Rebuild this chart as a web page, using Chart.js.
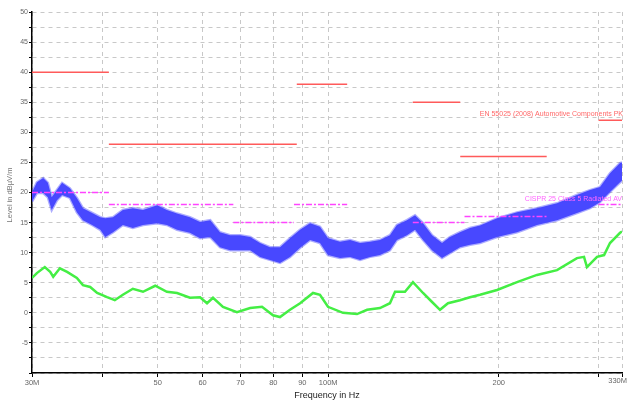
<!DOCTYPE html>
<html>
<head>
<meta charset="utf-8">
<script src="https://cdn.jsdelivr.net/npm/chart.js@4.4.0/dist/chart.umd.min.js"></script>
<style>
  html, body { margin: 0; padding: 0; background: #fff; }
  #wrap { width: 627px; height: 402px; position: relative; }
</style>
</head>
<body>
<div id="wrap"><canvas id="scan"></canvas></div>
<script>
// frequency axis (MHz, log)
const xTicks = [30, 40, 50, 60, 70, 80, 90, 100, 200, 300, 330];
const xTickLabels = ['30M', '', '50', '60', '70', '80', '90', '100M', '200', '', '330M'];

// peak scan, drawn as a band (upper / lower edge of the noise)
const blueFreq = [30, 30.6, 31.4, 32, 32.5, 33.2, 33.9, 35, 36, 36.9, 38.3, 39.6, 40.4, 41.7, 43.4, 45.2, 47.1, 49.9, 51.9, 54.1,
  57, 59.4, 61.9, 64.4, 67.1, 69.9, 72.8, 75.8, 78.9, 82.2, 85.6, 89.2, 92.9, 96.7, 99.9, 104.9, 109.3, 113.8, 118.5, 123.4,
  128.5, 132.2, 137.7, 142.3, 147, 152.5, 158.8, 164, 170.8, 177.9, 185.3, 198.6, 215.4, 233.6, 253.4, 274.8, 289.8, 301.8, 314.3, 327.4, 330];
const blueHigh = [20.0, 21.7, 22.4, 21.6, 19.2, 20.4, 21.6, 20.7, 19.1, 17.4, 16.6, 15.9, 15.7, 15.9, 17.1, 17.4, 17.1, 17.9, 17.1, 16.5,
  15.9, 15.1, 15.4, 13.4, 12.9, 12.9, 12.6, 11.6, 10.9, 10.9, 12.4, 13.8, 14.9, 14.3, 12.4, 11.8, 12.1, 11.6, 11.8, 12.1,
  12.9, 14.6, 15.4, 16.2, 14.9, 12.9, 11.6, 12.6, 13.4, 14.1, 14.5, 15.7, 16.7, 17.4, 18.2, 19.6, 20.4, 20.9, 23.2, 24.9, 25.0];
const blueLow = [18.5, 19.9, 19.9, 19.2, 17.1, 18.7, 19.6, 19.1, 16.7, 15.4, 14.6, 13.8, 12.6, 13.4, 14.6, 14.1, 14.6, 14.9, 14.6, 13.8,
  13.3, 12.4, 12.6, 10.9, 10.4, 10.4, 10.4, 9.3, 8.8, 8.3, 9.3, 10.8, 12.1, 11.6, 9.6, 9.1, 9.3, 8.8, 9.3, 9.6,
  10.4, 12.1, 12.9, 13.8, 12.1, 10.4, 9.1, 9.9, 10.9, 11.3, 11.6, 12.6, 13.4, 14.6, 15.4, 16.6, 17.4, 18.4, 20.1, 21.7, 22.0];

// average scan
const greenFreq = [30, 30.6, 31.6, 32.3, 32.7, 33.6, 34.6, 36, 36.9, 38, 39.1, 40.7, 42, 43.4, 45.2, 47.1, 49.5, 51.9, 54.1, 57,
  59.4, 61.1, 62.6, 65.2, 69, 72.8, 76.4, 79.9, 82.2, 85.6, 89.2, 94, 96.7, 99.9, 106.2, 112.4, 117.1, 123.4, 128.5, 131.2,
  136.6, 141.1, 147, 152.5, 157.5, 162.7, 170.8, 177.9, 185.3, 198.6, 215.4, 233.6, 253.4, 274.8, 282.8, 286.2, 298.2, 306.8, 314.3, 327.4, 330];
const greenLevel = [5.8, 6.6, 7.6, 6.8, 6.0, 7.4, 6.8, 5.8, 4.6, 4.3, 3.3, 2.6, 2.1, 3.0, 4.0, 3.5, 4.5, 3.5, 3.3, 2.5,
  2.6, 1.6, 2.5, 1.0, 0.1, 0.8, 1.0, -0.4, -0.7, 0.5, 1.6, 3.3, 3.0, 1.0, 0.0, -0.2, 0.5, 0.8, 1.6, 3.5,
  3.5, 5.1, 3.3, 1.8, 0.5, 1.6, 2.1, 2.6, 3.0, 3.8, 5.1, 6.3, 7.1, 9.1, 9.3, 7.6, 9.3, 9.6, 11.6, 13.3, 13.5];

// limit lines
const pkStart = [30, 41, 88, 141, 171, 300];
const pkStop = [41, 88, 108, 171, 243, 330];
const pkLevel = [40, 28, 38, 35, 26, 32];
const avStart = [30, 41, 68, 87, 141, 174, 300];
const avStop = [41, 68, 87, 108, 174, 243, 330];
const avLevel = [20, 18, 15, 18, 15, 16, 18];

const pkLabel = 'EN 55025 (2008) Automotive Components PK';
const avLabel = 'CISPR 25 Class 5 Radiated AV';

const FONT = '"Liberation Sans", Arial, sans-serif';

function pontos(freq, level) {
    return freq.map((f, i) => ({ x: f, y: level[i] }));
}

// segments separated by a null so the line breaks
function segmentos(start, stop, level) {
    const out = [];
    start.forEach((s, i) => {
        out.push({ x: s, y: level[i] }, { x: stop[i], y: level[i] }, { x: stop[i], y: null });
    });
    return out;
}

const textos = {
    id: 'textos',
    afterDraw(chart) {
        const ctx = chart.ctx;
        const area = chart.chartArea;
        ctx.save();
        ctx.textBaseline = 'middle';

        ctx.fillStyle = '#777';
        ctx.font = '7.5px ' + FONT;
        ctx.save();
        ctx.translate(10, 195);
        ctx.rotate(-Math.PI / 2);
        ctx.textAlign = 'center';
        ctx.fillText('Level in dBµV/m', 0, 0);
        ctx.restore();

        ctx.fillStyle = '#222';
        ctx.font = '9px ' + FONT;
        ctx.textAlign = 'center';
        ctx.fillText('Frequency in Hz', (area.left + area.right) / 2, 396);

        ctx.fillStyle = '#666';
        ctx.font = '7.5px ' + FONT;
        ctx.textAlign = 'right';
        ctx.fillText(xTickLabels[xTickLabels.length - 1], 627, 381);

        ctx.font = '7px ' + FONT;
        ctx.fillStyle = '#ff6868';
        ctx.fillText(pkLabel, 623, 114);
        ctx.fillStyle = '#ff66ff';
        ctx.fillText(avLabel, 622, 199);
        ctx.restore();
    }
};

new Chart(document.getElementById('scan'), {
    type: 'line',
    data: {
        datasets: [
            {
                label: 'PK',
                data: segmentos(pkStart, pkStop, pkLevel),
                borderColor: '#ff5a5a',
                borderWidth: 1.5,
                spanGaps: false
            },
            {
                label: 'AV',
                data: segmentos(avStart, avStop, avLevel),
                borderColor: '#ff44ff',
                borderWidth: 1.5,
                borderDash: [6, 2, 2, 2],
                spanGaps: false
            },
            {
                label: 'Peak high',
                data: pontos(blueFreq, blueHigh),
                borderColor: 'rgba(72,72,255,0.45)',
                borderWidth: 2.5,
                backgroundColor: '#4848ff',
                fill: '+1'
            },
            {
                label: 'Peak low',
                data: pontos(blueFreq, blueLow),
                borderColor: 'rgba(72,72,255,0.45)',
                borderWidth: 2.5
            },
            {
                label: 'Average',
                data: pontos(greenFreq, greenLevel),
                borderColor: '#44ee44',
                borderWidth: 2.5
            }
        ]
    },
    options: {
        responsive: true,
        maintainAspectRatio: false,
        animation: false,
        layout: { padding: { top: 12, right: 5, left: 0, bottom: 0 } },
        elements: {
            point: { radius: 0 },
            line: { tension: 0 }
        },
        plugins: {
            legend: { display: false },
            tooltip: { enabled: false }
        },
        scales: {
            x: {
                type: 'logarithmic',
                min: 30,
                max: 330,
                afterBuildTicks: s => { s.ticks = xTicks.map(v => ({ value: v })); },
                afterFit: s => { s.height = 29; s.paddingLeft = 0; s.paddingRight = 0; },
                grid: { color: '#c8c8c8', tickColor: '#000', tickLength: 4 },
                border: { color: '#000', width: 1.5, dash: [4, 4] },
                ticks: {
                    autoSkip: false,
                    maxRotation: 0,
                    padding: 1,
                    color: '#666',
                    font: { family: FONT, size: 7.5 },
                    callback: (v, i) => (i === xTickLabels.length - 1 ? '' : xTickLabels[i])
                }
            },
            y: {
                min: -10,
                max: 50,
                afterFit: s => { s.width = 32; },
                grid: { color: '#c8c8c8', tickColor: '#000', tickLength: 3 },
                border: { color: '#000', width: 1.5, dash: [4, 4] },
                ticks: {
                    stepSize: 2.5,
                    padding: 1,
                    color: '#666',
                    font: { family: FONT, size: 7 },
                    callback: v => (v % 5 === 0 && v > -10 ? String(v) : '')
                }
            }
        }
    },
    plugins: [textos]
});
</script>
</body>
</html>
